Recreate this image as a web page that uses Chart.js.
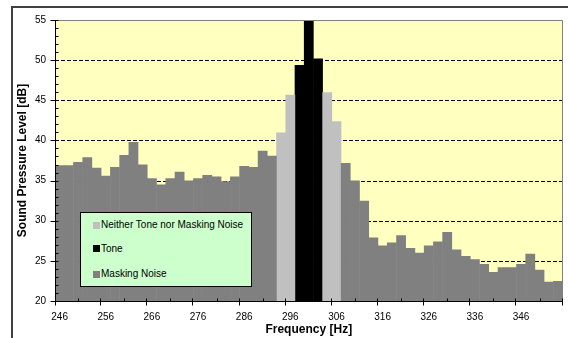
<!DOCTYPE html>
<html>
<head>
<meta charset="utf-8">
<script src="https://cdn.jsdelivr.net/npm/chart.js@4.4.0/dist/chart.umd.min.js"></script>
<style>
html,body{margin:0;padding:0;background:#fff;}
#wrap{position:relative;width:568px;height:338px;overflow:hidden;font-family:"Liberation Sans",Arial,sans-serif;}
#frame{position:absolute;left:11px;top:6px;width:600px;height:400px;border-top:2px solid #404040;border-left:2px solid #404040;}
#chart{position:absolute;left:0;top:0;}
#legend{position:absolute;left:80px;top:212px;width:172px;height:75px;box-sizing:border-box;background:#CCFFCC;border:1px solid #000;}
.sw{position:absolute;left:12px;width:7px;height:7px;}
.tx{position:absolute;left:20px;font-size:10px;line-height:12px;color:#000;white-space:nowrap;}
</style>
</head>
<body>
<div id="wrap">
  <div id="frame"></div>
  <canvas id="chart" width="568" height="338"></canvas>
  <div id="legend"></div>
</div>
<script>
// ---- data ----
const frequencies = [246,248,250,252,254,256,258,260,262,264,266,268,270,272,274,276,278,280,282,284,286,288,290,292,294,296,298,300,302,304,306,308,310,312,314,316,318,320,322,324,326,328,330,332,334,336,338,340,342,344,346,348,350,352,354];
const maskingNoise = [36.9,36.9,37.3,37.9,36.6,35.6,36.7,38.2,39.8,37.0,35.3,34.5,35.3,36.1,35.0,35.3,35.7,35.5,34.9,35.5,36.8,36.7,38.7,38.1,
  null,null,null,null,null,null,null,
  37.2,35.0,32.5,27.9,26.9,27.3,28.2,26.6,26.0,26.9,27.4,28.6,26.4,25.6,25.2,24.6,23.6,24.2,24.2,24.6,25.9,23.9,22.4,22.5];
const neitherToneNorNoise = [null,null,null,null,null,null,null,null,null,null,null,null,null,null,null,null,null,null,null,null,null,null,null,null,
  41.0,45.7,null,null,null,46.0,42.4,
  null,null,null,null,null,null,null,null,null,null,null,null,null,null,null,null,null,null,null,null,null,null,null,null];
const tone = [null,null,null,null,null,null,null,null,null,null,null,null,null,null,null,null,null,null,null,null,null,null,null,null,null,null,
  49.4,56.0,50.2,
  null,null,null,null,null,null,null,null,null,null,null,null,null,null,null,null,null,null,null,null,null,null,null,null,null,null];
const xTickLabels = ['246','256','266','276','286','296','306','316','326','336','346'];
const yTickLabels = [20,25,30,35,40,45,50,55];
const legendLabels = ['Neither Tone nor Masking Noise','Tone','Masking Noise'];

const colNeither = '#C0C0C0', colTone = '#000000', colNoise = '#808080';

// ---- legend (HTML) ----
const legendEl = document.getElementById('legend');
const legendCols = [colNeither, colTone, colNoise];
const swTops = [9, 32, 57.5];
const txTops = [6.3, 29.6, 55];
legendLabels.forEach((t,i)=>{
  const s = document.createElement('div'); s.className='sw'; s.style.top=swTops[i]+'px'; s.style.background=legendCols[i]; legendEl.appendChild(s);
  const p = document.createElement('div'); p.className='tx'; p.style.top=txTops[i]+'px'; p.textContent=t; legendEl.appendChild(p);
});

Chart.defaults.font.family = "'Liberation Sans', Arial, sans-serif";
Chart.defaults.font.size = 10;
Chart.defaults.color = '#000';

const deco = {
  id: 'deco',
  beforeDraw(chart){
    const {ctx, chartArea:a} = chart;
    ctx.save();
    ctx.fillStyle = '#FFFFC0';
    ctx.fillRect(a.left, a.top, a.right-a.left, a.bottom-a.top);
    ctx.restore();
  },
  beforeDatasetsDraw(chart){
    const {ctx, chartArea:a, scales:{y}} = chart;
    ctx.save();
    ctx.strokeStyle = '#000'; ctx.lineWidth = 1; ctx.setLineDash([4,2]);
    yTickLabels.slice(1, -1).forEach(v=>{
      const py = Math.round(y.getPixelForValue(v)) + 0.5;
      ctx.beginPath(); ctx.moveTo(a.left, py); ctx.lineTo(a.right, py); ctx.stroke();
    });
    ctx.restore();
  },
  afterDraw(chart){
    const {ctx, chartArea:a, scales:{x, y}} = chart;
    ctx.save();
    ctx.lineWidth = 1;
    // plot-area border (top/right)
    ctx.strokeStyle = '#808080';
    ctx.beginPath();
    ctx.moveTo(a.left, a.top + 0.5); ctx.lineTo(Math.round(a.right) - 0.5, a.top + 0.5);
    ctx.lineTo(Math.round(a.right) - 0.5, a.bottom);
    ctx.stroke();
    // tick marks
    ctx.strokeStyle = '#000';
    ctx.beginPath();
    const by = Math.round(a.bottom) + 0.5;
    for (let k = 0; k <= frequencies.length; k += 5) {
      const px = Math.round(x.getPixelForValue(k - 0.5)) - 0.5 + (k===0?1:0);
      ctx.moveTo(px, by - 3); ctx.lineTo(px, by + 4);
      if (k + 2.5 < frequencies.length) {
        const mx = Math.round(x.getPixelForValue(k + 2)) + 0.5;
        ctx.moveTo(mx, by - 3); ctx.lineTo(mx, by);
      }
    }
    const lx = Math.round(a.left) + 0.5;
    for (let v = yTickLabels[0]; v <= yTickLabels[yTickLabels.length-1]; v++) {
      const py = Math.round(y.getPixelForValue(v)) + 0.5;
      if (v % 5 === 0) { ctx.moveTo(lx - 5, py); ctx.lineTo(lx + 3, py); }
      else { ctx.moveTo(lx, py); ctx.lineTo(lx + 3, py); }
    }
    ctx.stroke();
    ctx.restore();
  }
};

const common = { grouped:false, borderWidth:0, categoryPercentage:1.0, barPercentage:1.06 };

new Chart(document.getElementById('chart'), {
  type: 'bar',
  data: {
    labels: frequencies.map(String),
    datasets: [
      Object.assign({ label: legendLabels[2], data: maskingNoise, backgroundColor: colNoise }, common),
      Object.assign({ label: legendLabels[0], data: neitherToneNorNoise, backgroundColor: colNeither }, common),
      Object.assign({ label: legendLabels[1], data: tone, backgroundColor: colTone }, common)
    ]
  },
  options: {
    responsive: false,
    animation: false,
    events: [],
    layout: { padding: { top: 20, right: 4, left: 0, bottom: 0 } },
    plugins: { legend: { display: false }, tooltip: { enabled: false } },
    scales: {
      x: {
        type: 'category',
        offset: true,
        grid: { display: false, drawTicks: false },
        border: { display: true, color: '#000', width: 1, z: 1 },
        ticks: {
          autoSkip: false, maxRotation: 0, minRotation: 0, padding: 10,
          callback: (val, idx) => xTickLabels.includes(frequencies[idx] + '') ? String(frequencies[idx]) : ''
        },
        title: { display: true, text: 'Frequency [Hz]', font: { size: 12, weight: 'bold' }, padding: { top: 0, bottom: 1 } },
        afterFit: s => { s.height = 37; }
      },
      y: {
        min: 20, max: 55,
        grid: { display: false, drawTicks: false },
        border: { display: true, color: '#000', width: 1, z: 1 },
        ticks: { stepSize: 5, autoSkip: false, padding: 9, callback: v => yTickLabels.includes(v) ? String(v) : '' },
        title: { display: true, text: 'Sound Pressure Level [dB]', font: { size: 12, weight: 'bold' }, padding: { top: 15, bottom: 0 } },
        afterFit: s => { s.width = 55; }
      }
    }
  },
  plugins: [deco]
});
</script>
</body>
</html>
